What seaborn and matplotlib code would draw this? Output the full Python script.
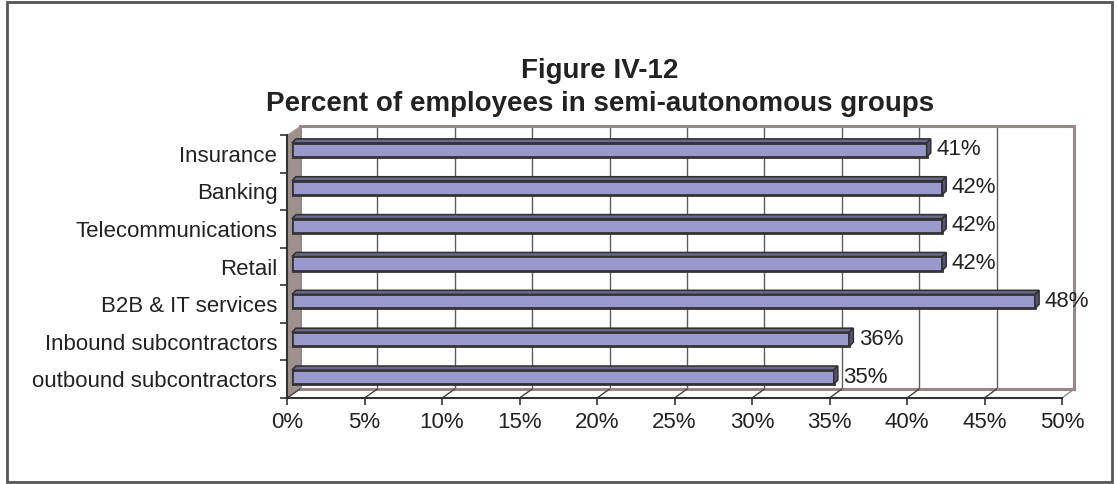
import matplotlib
matplotlib.use('Agg')
import matplotlib.pyplot as plt
from matplotlib.patches import Polygon, Rectangle
from matplotlib.lines import Line2D
from matplotlib.transforms import IdentityTransform
import seaborn as sns
import pandas as pd

categories = ['Insurance', 'Banking', 'Telecommunications', 'Retail',
              'B2B & IT services', 'Inbound subcontractors',
              'outbound subcontractors']
percent = [41, 42, 42, 42, 48, 36, 35]
x_ticks = [0, 5, 10, 15, 20, 25, 30, 35, 40, 45, 50]
x_tick_labels = [f'{t}%' for t in x_ticks]
title_lines = ['Figure IV-12', 'Percent of employees in semi-autonomous groups']

W, H = 1117, 484
FACE = '#9999CC'
TOP = '#6B6B8F'
SIDE = '#55557A'
EDGE = '#333333'
WALL = '#968886'
TEXT = '#222222'


def box(l, r, t, b):
    # pixel box (from top-left) -> figure fraction
    return [l / W, 1 - b / H, (r - l) / W, (b - t) / H]


def px(x, y):
    # image pixel (top-left origin) -> display coords
    return (x, H - y)


sns.set_theme(style='white')
plt.rcParams['font.family'] = ['Liberation Sans', 'DejaVu Sans']

fig = plt.figure(figsize=(W / 100, H / 100), dpi=100)
ident = IdentityTransform()

# back wall with gridlines
axw = fig.add_axes(box(300, 1074, 126, 389))
axw.set_zorder(0)
axw.set_xlim(0, 50)
axw.set_ylim(0, 1)
axw.set_xticks(x_ticks)
axw.set_yticks([])
axw.tick_params(length=0, labelbottom=False)
axw.grid(axis='x', color='#5E5E5E', linewidth=1)
axw.set_facecolor('white')
for s in axw.spines.values():
    s.set_color(WALL)
    s.set_linewidth(2.2)

# left wall (decoration)
fig.add_artist(Polygon([px(287, 135), px(300, 126), px(300, 389), px(287, 398)],
                       closed=True, facecolor='#9E918D', edgecolor='none',
                       transform=ident, zorder=0.5))

# front axes: ticks and labels
axf = fig.add_axes(box(287, 1062, 135, 398))
axf.set_zorder(1)
axf.patch.set_alpha(0)
axf.set_xlim(0, 50)
axf.set_xticks(x_ticks)
axf.set_xticklabels(x_tick_labels, fontsize=16, color=TEXT)
axf.set_ylim(len(categories) - 0.5, -0.5)
axf.set_yticks(range(len(categories)))
axf.set_yticklabels(categories, fontsize=16, color=TEXT)
axf.set_yticks([i - 0.5 for i in range(len(categories) + 1)], minor=True)
axf.tick_params(axis='y', which='major', length=0, pad=7)
axf.tick_params(axis='y', which='minor', length=5, width=1.2, color=EDGE, left=True)
axf.tick_params(axis='x', length=5, width=1.2, color=EDGE, pad=5, bottom=True)
for side in ['top', 'right']:
    axf.spines[side].set_visible(False)
for side in ['left', 'bottom']:
    axf.spines[side].set_color(EDGE)
    axf.spines[side].set_linewidth(1.5)

# bars
df = pd.DataFrame({'category': categories, 'percent': percent})
axb = fig.add_axes(box(292, 1066, 131, 396))
axb.set_zorder(2)
sns.barplot(data=df, x='percent', y='category', orient='h', color=FACE,
            saturation=1, edgecolor=EDGE, linewidth=2, width=0.37, ax=axb)
axb.set_xlim(0, 50)
axb.set_ylim(len(categories) - 0.5, -0.5)
axb.axis('off')
axb.patch.set_alpha(0)
axb.bar_label(axb.containers[0], labels=[f'{v}%' for v in percent],
              padding=7, fontsize=16, color=TEXT)

fig.canvas.draw()

# floor diagonals from front ticks to back wall
for t in x_ticks:
    fx, fy = axf.transData.transform((t, len(categories) - 0.5))
    bx, by = axw.transData.transform((t, 0))
    col = WALL if t == 50 else '#444444'
    fig.add_artist(Line2D([fx, bx], [fy, by], color=col, linewidth=1,
                          transform=ident, zorder=0.6))

# 3D faces of bars
d = 4
for p in axb.patches:
    (x0, y0), (x1, y1) = p.get_window_extent().get_points()
    fig.add_artist(Polygon([(x0, y1), (x1, y1), (x1 + d, y1 + d), (x0 + d, y1 + d)],
                           closed=True, facecolor=TOP, edgecolor=EDGE, linewidth=1.2,
                           transform=ident, zorder=3))
    fig.add_artist(Polygon([(x1, y0), (x1, y1), (x1 + d, y1 + d), (x1 + d, y0 + d)],
                           closed=True, facecolor=SIDE, edgecolor=EDGE, linewidth=1.2,
                           transform=ident, zorder=3))

# title
fig.text(600 / W, 1 - 71 / H, title_lines[0], ha='center', va='center',
         fontsize=20, fontweight='bold', color=TEXT)
fig.text(600 / W, 1 - 104 / H, title_lines[1], ha='center', va='center',
         fontsize=20, fontweight='bold', color=TEXT)

# outer border
fig.add_artist(Rectangle((7 / W, 2 / H), 1105 / W, 480 / H, fill=False,
                         edgecolor='#555555', linewidth=2,
                         transform=fig.transFigure, zorder=5))

fig.savefig('out.png', dpi=100)
